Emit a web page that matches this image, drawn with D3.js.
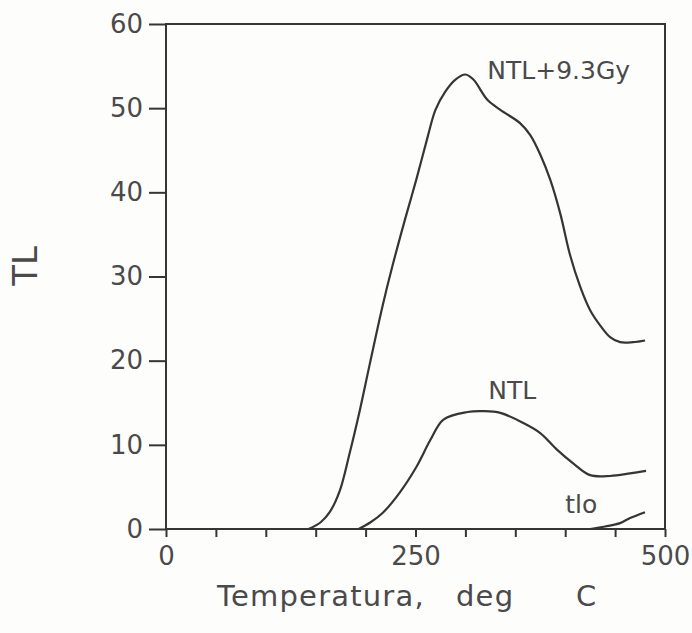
<!DOCTYPE html>
<html>
<head>
<meta charset="utf-8">
<script src="https://cdn.jsdelivr.net/npm/d3@7"></script>
<style>
  body { margin: 0; background: #fdfdfc; }
  svg { display: block; }
  text { font-family: "DejaVu Sans", sans-serif; fill: #4a4a4a; }
</style>
</head>
<body>
<svg id="chart" width="692" height="633"></svg>
<script>
"use strict";

// glow curves: [temperature, TL]
var irradiated = [
    [143, 0], [155, 0.8], [164, 2.0], [174, 4.5], [184, 9.0], [194, 14.0], [204, 19.5],
    [217, 26.5], [227, 31.3], [240, 37.0], [251, 41.6], [262, 46.5], [270, 49.8],
    [280, 52.0], [290, 53.4], [300, 54.0], [308, 53.4], [322, 51.0], [335, 49.8],
    [355, 48.2], [365, 46.8], [375, 44.5], [385, 41.5], [395, 37.5], [405, 32.5],
    [415, 28.8], [425, 26.0], [435, 24.2], [445, 22.8], [455, 22.2], [468, 22.2], [480, 22.4]
];
var natural = [
    [193, 0], [205, 0.8], [217, 1.9], [234, 4.3], [251, 7.4], [265, 10.6], [278, 13.0],
    [302, 13.9], [318, 14.0], [335, 13.8], [358, 12.6], [375, 11.4], [392, 9.4],
    [408, 7.8], [425, 6.4], [445, 6.3], [465, 6.6], [481, 6.9]
];
var background = [
    [425, 0], [440, 0.3], [455, 0.7], [465, 1.3], [480, 2.0]
];

var xTicks = [0, 50, 100, 150, 200, 250, 300, 350, 400, 450, 500];
var xLabels = [0, 250, 500];
var yTicks = [0, 10, 20, 30, 40, 50, 60];

var seriesLabels = [
    {text: "NTL+9.3Gy", t: 322, v: 53.5},
    {text: "NTL", t: 323, v: 15.4},
    {text: "tlo", t: 400, v: 1.9}
];

var svg = d3.select("#chart");
var x = d3.scaleLinear().domain([0, 500]).range([166, 665]);
var y = d3.scaleLinear().domain([0, 60]).range([529, 24]);

var ink = "#353535";

// frame
svg.append("rect")
    .attr("x", x(0)).attr("y", y(60))
    .attr("width", x(500) - x(0)).attr("height", y(0) - y(60))
    .attr("fill", "none").attr("stroke", ink).attr("stroke-width", 2);

// y axis
var yAxis = d3.axisLeft(y).tickValues(yTicks).tickSize(17).tickPadding(6);
var gy = svg.append("g").attr("transform", "translate(" + x(0) + ",0)").call(yAxis);
gy.select(".domain").remove();
gy.selectAll(".tick line").attr("stroke", ink).attr("stroke-width", 2);
gy.selectAll(".tick text").attr("font-size", 26).style("font-family", "DejaVu Sans").attr("fill", "#4a4a4a");

// x axis
var xAxis = d3.axisBottom(x).tickValues(xTicks).tickSize(8).tickPadding(10)
    .tickFormat(function(d) { return xLabels.indexOf(d) >= 0 ? d : ""; });
var gx = svg.append("g").attr("transform", "translate(0," + y(0) + ")").call(xAxis);
gx.select(".domain").remove();
gx.selectAll(".tick line").attr("stroke", ink).attr("stroke-width", 2);
gx.selectAll(".tick text").attr("font-size", 26).style("font-family", "DejaVu Sans").attr("fill", "#4a4a4a");

// curves
var line = d3.line()
    .x(function(d) { return x(d[0]); })
    .y(function(d) { return y(d[1]); })
    .curve(d3.curveCatmullRom.alpha(0.5));

[irradiated, natural, background].forEach(function(s) {
    svg.append("path")
        .attr("d", line(s))
        .attr("fill", "none")
        .attr("stroke", ink)
        .attr("stroke-width", 2.2)
        .attr("stroke-linejoin", "round");
});

svg.selectAll(".series-label")
    .data(seriesLabels)
    .enter().append("text")
        .attr("class", "series-label")
        .attr("x", function(d) { return x(d.t); })
        .attr("y", function(d) { return y(d.v); })
        .attr("font-size", 25)
        .text(function(d) { return d.text; });

// axis titles
svg.append("text")
    .attr("transform", "translate(37,266) rotate(-90)")
    .attr("text-anchor", "middle")
    .attr("font-size", 34)
    .text("TL");

var title = svg.append("text").attr("y", 606).attr("font-size", 29)
    .attr("letter-spacing", 1.2);
title.append("tspan").attr("x", 217).text("Temperatura,");
title.append("tspan").attr("x", 456).text("deg");
title.append("tspan").attr("x", 576).text("C");
</script>
</body>
</html>
